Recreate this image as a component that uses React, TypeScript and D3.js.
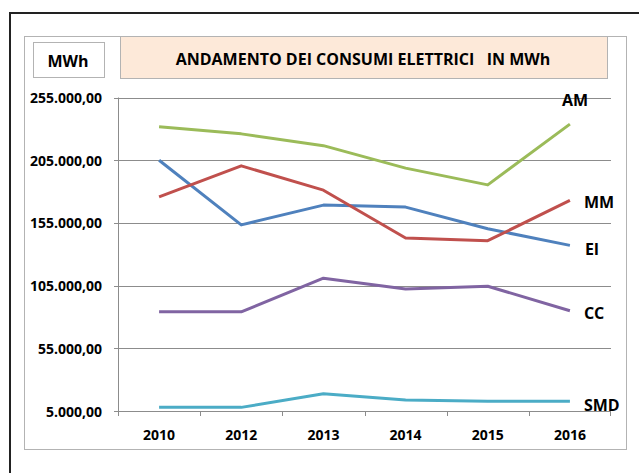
import React from 'react';
import * as d3 from 'd3';

// values (MWh)
const years = ['2010', '2012', '2013', '2014', '2015', '2016'];
const am = [231600, 226000, 216600, 198700, 185300, 233800];
const ei = [205000, 153400, 169200, 167600, 150300, 137100];
const mm = [175800, 200500, 181100, 142900, 140800, 172900];
const cc = [84100, 84100, 110900, 102300, 104500, 84900];
const smd = [7900, 7900, 18700, 13800, 12800, 12800];
const yTicks = [5000, 55000, 105000, 155000, 205000, 255000];

const series = [
  { name: 'AM', values: am, color: '#9BBB59', dx: -8, dy: -24 },
  { name: 'EI', values: ei, color: '#4F81BD', dx: 15, dy: 4 },
  { name: 'MM', values: mm, color: '#C0504D', dx: 14, dy: 2 },
  { name: 'CC', values: cc, color: '#8064A2', dx: 14, dy: 2 },
  { name: 'SMD', values: smd, color: '#4BACC6', dx: 14, dy: 4 },
];

const font = "'Open Sans', 'DejaVu Sans', sans-serif";
const itFmt = d3
  .formatLocale({ decimal: ',', thousands: '.', grouping: [3], currency: ['', ''] })
  .format(',.2f');

export default function App() {
  const left = 118;
  const right = 611;
  const top = 97.5;
  const bottom = 411;

  const x = d3.scaleBand().domain(years).range([left, right]);
  const y = d3.scaleLinear().domain([5000, 255000]).range([bottom, top]);
  const cx = (yr: string) => (x(yr) as number) + x.bandwidth() / 2;

  const line = d3
    .line<number>()
    .x((_, i) => cx(years[i]))
    .y((v) => y(v));

  return (
    <div style={{ position: 'absolute', left: 0, top: 0 }}>
      <svg width={639} height={473} style={{ display: 'block', fontFamily: font }}>
        <rect width={639} height={473} fill="#fff" />
        {/* outer frame, runs off the right/bottom edge */}
        <rect x={10} y={13} width={660} height={500} fill="none" stroke="#222" strokeWidth={2} />
        {/* chart area */}
        <rect x={24.5} y={36.5} width={602} height={413} fill="#fff" stroke="#b3b3b3" strokeWidth={1} />

        {/* title boxes */}
        <rect x={33.5} y={42.5} width={71} height={35} fill="#fff" stroke="#b3b3b3" />
        <text x={68} y={61} textAnchor="middle" dominantBaseline="central" fontSize={16} fontWeight="bold">
          MWh
        </text>
        <rect x={120.5} y={36.5} width={487} height={42} fill="#FDE9D9" stroke="#b3b3b3" />
        <text
          x={363}
          y={59}
          textAnchor="middle"
          dominantBaseline="central"
          fontSize={16}
          fontWeight="bold"
          style={{ whiteSpace: 'pre' }}
        >
          {'ANDAMENTO DEI CONSUMI ELETTRICI   IN MWh'}
        </text>

        {/* grid + y axis */}
        {yTicks.map((t) => (
          <g key={t}>
            <line x1={left - 4} x2={right} y1={Math.round(y(t)) + 0.5} y2={Math.round(y(t)) + 0.5} stroke="#8c8c8c" />
            <text x={102} y={y(t)} textAnchor="end" dominantBaseline="central" fontSize={14} fontWeight="bold">
              {itFmt(t)}
            </text>
          </g>
        ))}
        <line x1={left + 0.5} x2={left + 0.5} y1={top} y2={bottom} stroke="#8c8c8c" />

        {/* x axis ticks + labels */}
        {years.map((yr) => (
          <line
            key={'t' + yr}
            x1={Math.round(x(yr) as number) + 0.5}
            x2={Math.round(x(yr) as number) + 0.5}
            y1={bottom}
            y2={bottom + 5}
            stroke="#8c8c8c"
          />
        ))}
        <line x1={right - 0.5} x2={right - 0.5} y1={bottom} y2={bottom + 5} stroke="#8c8c8c" />
        {years.map((yr) => (
          <text key={yr} x={cx(yr)} y={434} textAnchor="middle" dominantBaseline="central" fontSize={14} fontWeight="bold">
            {yr}
          </text>
        ))}

        {/* series */}
        {series.map((s) => (
          <path key={s.name} d={line(s.values) || ''} fill="none" stroke={s.color} strokeWidth={3} strokeLinejoin="round" />
        ))}
        {series.map((s) => {
          const last = s.values.length - 1;
          return (
            <text
              key={'l' + s.name}
              x={cx(years[last]) + s.dx}
              y={y(s.values[last]) + s.dy}
              dominantBaseline="central"
              fontSize={16}
              fontWeight="bold"
            >
              {s.name}
            </text>
          );
        })}
      </svg>
    </div>
  );
}
